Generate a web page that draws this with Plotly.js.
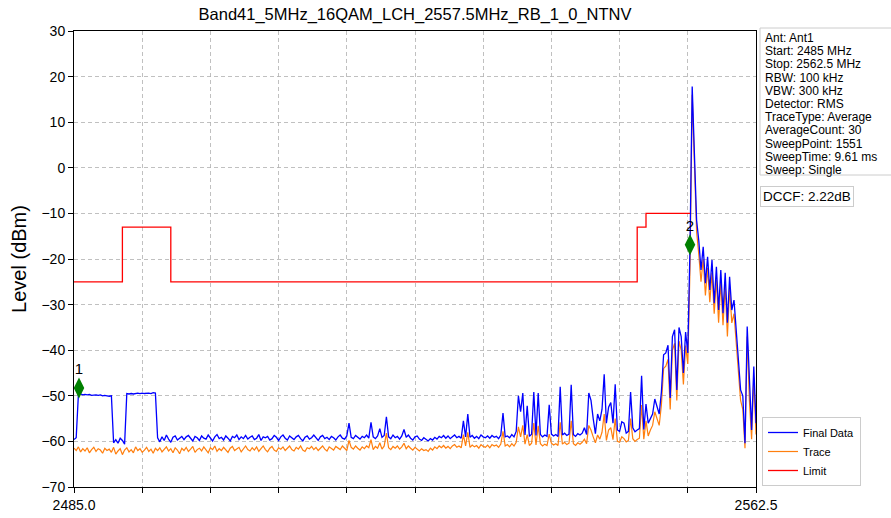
<!DOCTYPE html>
<html><head><meta charset="utf-8">
<script src="https://cdn.plot.ly/plotly-3.0.1.min.js"></script>
<style>html,body{margin:0;padding:0;background:#fff;} #chart{width:891px;height:518px;}</style>
</head><body><div id="chart"></div>
<script>
// Sweep settings (MHz)
const sweepStartMHz = 2485.0;
const sweepStopMHz = 2562.5;

// "Final Data" trace levels (dBm), sampled across the sweep
const finalData = [
-59.6,-59.2,-49.7,-49.6,-49.8,-49.7,-49.8,-49.7,-49.9,-49.8,
-49.8,-49.9,-49.8,-50.0,-49.9,-50.0,-50.1,-50.0,-60.3,-59.6,
-60.4,-59.3,-59.8,-60.6,-49.5,-49.6,-49.5,-49.6,-49.5,-49.4,
-49.5,-49.4,-49.5,-49.4,-49.4,-49.5,-49.3,-49.4,-59.2,-60.1,
-59.0,-59.8,-58.6,-59.5,-60.2,-59.1,-58.8,-59.7,-59.3,-58.9,
-59.6,-59.0,-58.7,-59.4,-59.9,-58.9,-59.2,-59.8,-58.8,-59.3,
-59.5,-58.6,-59.2,-59.9,-59.0,-58.5,-59.4,-59.1,-59.7,-58.8,
-59.3,-59.9,-58.9,-59.2,-58.6,-59.6,-59.0,-59.4,-58.7,-59.5,
-59.1,-58.8,-59.6,-59.3,-58.5,-59.8,-59.0,-59.2,-58.9,-59.7,
-59.4,-58.7,-59.1,-59.8,-59.0,-58.6,-59.3,-59.7,-58.8,-59.2,
-59.6,-59.0,-58.7,-59.4,-59.9,-59.1,-58.8,-59.5,-59.2,-58.6,
-59.3,-59.8,-59.0,-58.7,-59.4,-59.1,-59.6,-58.9,-59.2,-59.7,
-59.0,-58.6,-59.3,-59.5,-58.8,-56.0,-59.1,-59.4,-58.7,-59.2,
-59.5,-58.9,-59.2,-58.6,-59.3,-55.8,-59.0,-59.4,-58.8,-57.2,
-59.1,-58.7,-54.6,-59.0,-59.4,-58.6,-59.2,-58.9,-59.5,-58.8,
-57.4,-59.1,-58.6,-59.3,-59.7,-59.0,-58.8,-59.5,-59.8,-59.2,
-59.6,-59.9,-59.4,-59.7,-59.1,-59.5,-58.9,-59.2,-58.7,-59.3,
-58.8,-59.4,-59.0,-58.6,-59.2,-58.9,-59.3,-55.5,-59.0,-54.0,
-59.1,-58.7,-59.3,-58.9,-59.4,-58.6,-59.0,-59.2,-58.8,-59.3,
-58.7,-59.1,-58.9,-59.4,-58.6,-53.8,-59.0,-58.8,-59.2,-58.5,
-59.0,-57.8,-50.0,-53.5,-49.4,-58.6,-52.2,-58.9,-58.4,-49.2,
-58.7,-49.4,-58.5,-59.0,-58.6,-58.9,-52.0,-58.4,-58.8,-58.5,
-58.9,-48.0,-58.6,-58.2,-58.7,-58.4,-47.6,-58.5,-58.9,-58.3,
-58.6,-58.2,-57.0,-58.5,-49.4,-51.0,-55.0,-58.3,-54.0,-55.5,
-53.0,-45.3,-56.0,-52.5,-51.5,-56.0,-47.5,-57.5,-57.8,-55.7,
-56.0,-58.2,-57.8,-49.2,-57.0,-57.9,-57.5,-57.2,-45.6,-57.4,
-51.8,-56.0,-55.0,-54.0,-50.7,-52.5,-54.0,-49.2,-41.0,-40.6,
-38.9,-50.5,-37.0,-35.5,-48.7,-35.0,-37.0,-45.0,-36.0,-40.6,
-17.4,17.8,1.0,-11.5,-16.0,-22.4,-17.3,-25.3,-19.5,-26.8,
-20.2,-29.7,-21.7,-31.2,-22.4,-31.9,-23.0,-34.0,-23.9,-31.2,
-29.0,-35.6,-40.6,-48.7,-50.0,-60.4,-34.8,-48.0,-57.5,-43.6,-56.0
];

// "Trace" levels (dBm), same sweep points
const traceData = [
-61.5,-62.0,-61.2,-62.3,-61.6,-62.1,-61.4,-62.5,-61.8,-61.3,
-62.2,-61.6,-61.9,-62.6,-61.5,-62.0,-61.7,-62.4,-61.3,-62.8,
-62.1,-61.6,-62.9,-61.9,-61.4,-62.3,-61.8,-62.5,-61.2,-62.0,
-61.6,-62.4,-61.9,-61.3,-62.2,-61.7,-62.6,-61.5,-62.0,-61.4,
-62.3,-61.8,-61.2,-62.1,-61.6,-62.5,-61.4,-61.9,-62.7,-61.5,
-62.0,-61.3,-62.2,-61.7,-61.1,-62.4,-61.8,-61.5,-62.1,-61.2,
-61.9,-62.5,-61.4,-61.8,-61.0,-62.2,-61.6,-62.0,-61.3,-61.9,
-62.4,-61.5,-61.1,-62.0,-61.7,-61.3,-62.3,-61.6,-61.0,-61.8,
-62.1,-61.4,-61.9,-61.2,-62.2,-61.6,-61.0,-61.8,-62.3,-61.5,
-61.1,-61.9,-62.2,-61.4,-61.7,-61.2,-62.0,-61.5,-61.0,-61.8,
-62.1,-61.3,-61.7,-61.0,-61.9,-62.2,-61.4,-61.6,-61.1,-61.8,
-61.3,-62.0,-61.5,-61.0,-61.7,-62.1,-61.2,-61.6,-61.9,-61.1,
-61.5,-61.8,-61.0,-61.6,-62.0,-59.8,-61.3,-61.7,-61.0,-61.5,
-61.9,-61.2,-61.6,-61.0,-61.4,-59.6,-61.8,-61.1,-61.5,-60.3,
-61.7,-61.0,-58.2,-61.4,-61.8,-61.1,-61.5,-61.0,-61.7,-61.2,
-60.4,-61.6,-61.0,-61.5,-61.9,-61.3,-61.7,-62.1,-61.6,-62.0,
-61.8,-62.2,-61.5,-61.9,-61.2,-61.6,-61.0,-61.4,-60.9,-61.5,
-61.1,-61.6,-61.0,-60.7,-61.3,-61.0,-61.4,-58.5,-61.0,-58.0,
-61.3,-60.8,-61.2,-60.9,-61.5,-60.7,-61.1,-61.3,-60.8,-61.4,
-60.7,-61.0,-60.8,-61.3,-60.6,-57.8,-61.0,-60.7,-61.2,-60.5,
-61.0,-60.2,-56.8,-59.0,-56.5,-60.6,-58.5,-60.9,-60.4,-56.0,
-60.8,-56.6,-60.5,-61.0,-60.6,-60.9,-58.4,-60.4,-60.8,-60.5,
-60.9,-55.8,-60.6,-60.2,-60.7,-60.4,-55.5,-60.5,-60.9,-60.3,
-60.6,-60.2,-59.5,-60.5,-56.5,-57.5,-59.0,-60.3,-58.6,-59.5,
-58.0,-54.0,-59.8,-57.5,-57.0,-59.6,-55.0,-60.0,-60.2,-59.0,
-59.4,-60.1,-59.8,-55.0,-59.4,-60.0,-59.6,-59.3,-52.0,-59.5,
-55.5,-58.8,-57.5,-56.5,-53.5,-55.0,-56.5,-52.0,-44.0,-43.5,
-42.0,-53.0,-40.0,-38.5,-51.0,-38.0,-40.0,-47.5,-39.0,-43.0,
-22.0,16.0,-2.0,-14.0,-19.0,-25.0,-20.0,-28.0,-22.0,-29.5,
-23.0,-32.0,-24.5,-34.0,-25.0,-34.5,-26.0,-37.0,-26.5,-34.0,
-32.0,-38.0,-43.0,-51.0,-53.0,-61.5,-37.0,-51.0,-59.5,-46.0,-58.5
];

// Limit line breakpoints (step, hv)
const limitFreq = [2485.0, 2490.5, 2496.0, 2549.0, 2550.0, 2555.0];
const limitLevel = [-25, -13, -25, -13, -10, -10];

// Markers
const markerFreq = [2485.57, 2555.0];
const markerLevel = [-48.3, -16.9];
const markerLabel = ['1', '2'];

// Axis ticks
const xTickVals = [2485.0, 2492.75, 2500.5, 2508.25, 2516.0, 2523.75, 2531.5, 2539.25, 2547.0, 2554.75, 2562.5];
const xTickText = ['2485.0', '', '', '', '', '', '', '', '', '', '2562.5'];

// Texts
const chartTitle = 'Band41_5MHz_16QAM_LCH_2557.5MHz_RB_1_0_NTNV';
const yTitle = 'Level (dBm)';
const infoLines = ['Ant: Ant1', 'Start: 2485 MHz', 'Stop: 2562.5 MHz', 'RBW: 100 kHz', 'VBW: 300 kHz',
  'Detector: RMS', 'TraceType: Average', 'AverageCount: 30', 'SweepPoint: 1551', 'SweepTime: 9.61 ms', 'Sweep: Single'];
const dccfText = 'DCCF: 2.22dB';
const seriesNames = ['Final Data', 'Trace', 'Limit'];

// Frequency of each sample point across the sweep
const nPts = finalData.length;
const freq = finalData.map((_, i) => sweepStartMHz + i * (sweepStopMHz - sweepStartMHz) / (nPts - 1));

// Pixel helpers for layout placement (plot area 74..756 x 31..487)
const W = 891, H = 518, L = 74, R = 756, T = 31, B = 487;
const px2paperX = x => (x - L) / (R - L);
const px2paperY = y => (B - y) / (B - T);

const FONT = 'Arial, "Liberation Sans", sans-serif';

const traces = [
  { x: freq, y: traceData, type: 'scatter', mode: 'lines', name: seriesNames[1], legendrank: 2,
    line: { color: '#ff7f0e', width: 1.2 } },
  { x: freq, y: finalData, type: 'scatter', mode: 'lines', name: seriesNames[0], legendrank: 1,
    line: { color: '#0000ff', width: 1.3 } },
  { x: limitFreq, y: limitLevel, type: 'scatter', mode: 'lines', name: seriesNames[2], legendrank: 3,
    line: { color: '#ff0000', width: 1.3, shape: 'hv' } },
  { x: markerFreq, y: markerLevel, type: 'scatter', mode: 'markers+text', text: markerLabel,
    textposition: 'top center', textfont: { size: 15, color: '#000', family: FONT },
    marker: { symbol: 'diamond-tall', size: 15, color: '#008000' }, showlegend: false, cliponaxis: false }
];

const lineStep = 13.2;
const annotations = infoLines.map((t, k) => ({
  text: t, xref: 'paper', yref: 'paper', x: px2paperX(763), y: px2paperY(38 + lineStep * k),
  xanchor: 'left', yanchor: 'middle', showarrow: false, align: 'left',
  font: { size: 12, color: '#000', family: FONT }
}));
annotations.push({
  text: dccfText, xref: 'paper', yref: 'paper', x: px2paperX(760), y: px2paperY(196.5),
  xanchor: 'left', yanchor: 'middle', showarrow: false, bordercolor: '#cccccc', borderwidth: 1,
  borderpad: 2, bgcolor: '#ffffff', font: { size: 13.5, color: '#000', family: FONT }
});

const layout = {
  width: W, height: H,
  margin: { l: L, r: W - R, t: T, b: H - B, pad: 0 },
  paper_bgcolor: '#ffffff', plot_bgcolor: '#ffffff',
  font: { family: FONT, color: '#000' },
  title: { text: chartTitle, font: { size: 16.5, color: '#000', family: FONT },
    xref: 'paper', x: 0.5, xanchor: 'center', yref: 'container', y: 1 - 14 / H, yanchor: 'middle' },
  xaxis: {
    range: [sweepStartMHz, sweepStopMHz], tickmode: 'array', tickvals: xTickVals, ticktext: xTickText,
    ticks: 'outside', ticklen: 5, tickwidth: 1, tickcolor: '#000',
    showline: true, linecolor: '#000', linewidth: 1, mirror: true,
    showgrid: true, gridcolor: '#b0b0b0', gridwidth: 0.8, griddash: '4px,3px', zeroline: false,
    tickfont: { size: 14, color: '#000', family: FONT }, fixedrange: true
  },
  yaxis: {
    range: [-70, 30], tickmode: 'linear', tick0: 0, dtick: 10,
    ticks: 'outside', ticklen: 5, tickwidth: 1, tickcolor: '#000',
    showline: true, linecolor: '#000', linewidth: 1, mirror: true,
    showgrid: true, gridcolor: '#b0b0b0', gridwidth: 0.8, griddash: '4px,3px', zeroline: false,
    tickfont: { size: 14, color: '#000', family: FONT },
    title: { text: yTitle, font: { size: 20, color: '#000', family: FONT }, standoff: 9 }, fixedrange: true
  },
  showlegend: true,
  legend: {
    x: px2paperX(762), y: px2paperY(486), xanchor: 'left', yanchor: 'bottom',
    bordercolor: '#cccccc', borderwidth: 1, bgcolor: '#ffffff',
    font: { size: 11, color: '#000', family: FONT }, itemwidth: 30, tracegroupgap: 0
  },
  shapes: [{
    type: 'rect', xref: 'paper', yref: 'paper',
    x0: px2paperX(760), x1: px2paperX(900), y0: px2paperY(175), y1: px2paperY(28),
    line: { color: '#cccccc', width: 1 }, fillcolor: 'rgba(255,255,255,0)'
  }],
  annotations: annotations
};

Plotly.newPlot('chart', traces, layout, { displayModeBar: false, staticPlot: true });
</script>
</body></html>
